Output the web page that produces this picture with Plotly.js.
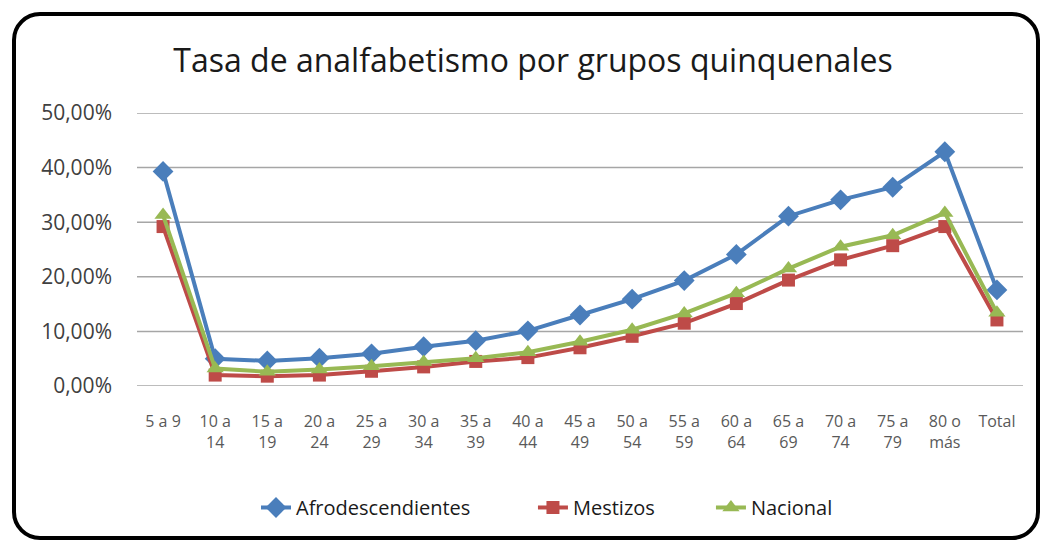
<!DOCTYPE html>
<html>
<head>
<meta charset="utf-8">
<script src="https://cdn.plot.ly/plotly-3.0.1.min.js"></script>
<style>
  html, body { margin: 0; padding: 0; background: #ffffff; }
  #wrap { position: relative; width: 1040px; height: 540px; overflow: hidden; }
  #chart { position: absolute; left: 0; top: 0; width: 1040px; height: 540px; }
  #frame { position: absolute; left: 12px; top: 12px; width: 1020px; height: 520px;
           border: 4px solid #000; border-radius: 28px; pointer-events: none; }
</style>
</head>
<body>
<div id="wrap">
  <div id="chart"></div>
  <div id="frame"></div>
</div>
<script>
const categories = ['5 a 9', '10 a<br>14', '15 a<br>19', '20 a<br>24', '25 a<br>29', '30 a<br>34',
  '35 a<br>39', '40 a<br>44', '45 a<br>49', '50 a<br>54', '55 a<br>59', '60 a<br>64',
  '65 a<br>69', '70 a<br>74', '75 a<br>79', '80 o<br>más', 'Total'];
const afrodescendientes = [0.393, 0.050, 0.046, 0.051, 0.059, 0.072, 0.083, 0.101, 0.130, 0.159, 0.193, 0.241, 0.311, 0.341, 0.364, 0.429, 0.176];
const mestizos = [0.292, 0.020, 0.018, 0.020, 0.027, 0.035, 0.045, 0.052, 0.070, 0.091, 0.115, 0.151, 0.194, 0.231, 0.257, 0.292, 0.121];
const nacional = [0.313, 0.032, 0.026, 0.030, 0.036, 0.044, 0.051, 0.062, 0.081, 0.103, 0.133, 0.170, 0.215, 0.255, 0.276, 0.317, 0.134];
const seriesNames = ['Afrodescendientes', 'Mestizos', 'Nacional'];
const yTicks = [0, 0.1, 0.2, 0.3, 0.4, 0.5];

const FONT = 'Open Sans, Noto Sans, sans-serif';

const traces = [
  { x: categories, y: afrodescendientes, name: seriesNames[0], type: 'scatter', mode: 'lines+markers', legend: 'legend',
    line: { color: '#4a7ebb', width: 4 }, marker: { symbol: 'diamond', size: 16, color: '#4a7ebb' }, cliponaxis: false },
  { x: categories, y: mestizos, name: seriesNames[1], type: 'scatter', mode: 'lines+markers', legend: 'legend2',
    line: { color: '#be4b48', width: 4 }, marker: { symbol: 'square', size: 13, color: '#be4b48' }, cliponaxis: false },
  { x: categories, y: nacional, name: seriesNames[2], type: 'scatter', mode: 'lines+markers', legend: 'legend3',
    line: { color: '#98b954', width: 4 }, marker: { symbol: 'triangle-up', size: 15, color: '#98b954' }, cliponaxis: false }
];

const legendBase = { orientation: 'h', xanchor: 'left', y: -0.445, yanchor: 'middle',
  font: { family: FONT, size: 20, color: '#1a1a1a' }, bgcolor: 'rgba(0,0,0,0)' };

const gridShapes = yTicks.map(v => ({ type: 'line', xref: 'paper', x0: 0, x1: 1, yref: 'y', y0: v, y1: v,
  line: { color: '#a6a6a6', width: 1.5 }, layer: 'below' }));

const layout = {
  width: 1040, height: 540,
  paper_bgcolor: '#ffffff', plot_bgcolor: '#ffffff',
  separators: ',.',
  margin: { l: 137, r: 17, t: 113, b: 154 },
  title: { text: 'Tasa de analfabetismo por grupos quinquenales',
           font: { family: FONT, size: 32, color: '#1a1a1a' },
           x: 0.5125, xref: 'container', xanchor: 'center',
           y: 0.887, yref: 'container', yanchor: 'middle' },
  xaxis: { type: 'category', range: [-0.5, 16.5], showgrid: false, zeroline: false, showline: false,
           ticks: '', ticklabelstandoff: 24,
           tickfont: { family: FONT, size: 16, color: '#595959' } },
  yaxis: { range: [0, 0.5], tickvals: yTicks, tickformat: '.2%', showgrid: false,
           zeroline: false, showline: false, ticks: '',
           ticklabelstandoff: 24,
           tickfont: { family: FONT, size: 21, color: '#404040' } },
  shapes: gridShapes,
  showlegend: true,
  legend: Object.assign({}, legendBase, { x: 0.1343 }),
  legend2: Object.assign({}, legendBase, { x: 0.4469 }),
  legend3: Object.assign({}, legendBase, { x: 0.6478 })
};

Plotly.newPlot('chart', traces, layout, { displayModeBar: false, staticPlot: true });
</script>
</body>
</html>
